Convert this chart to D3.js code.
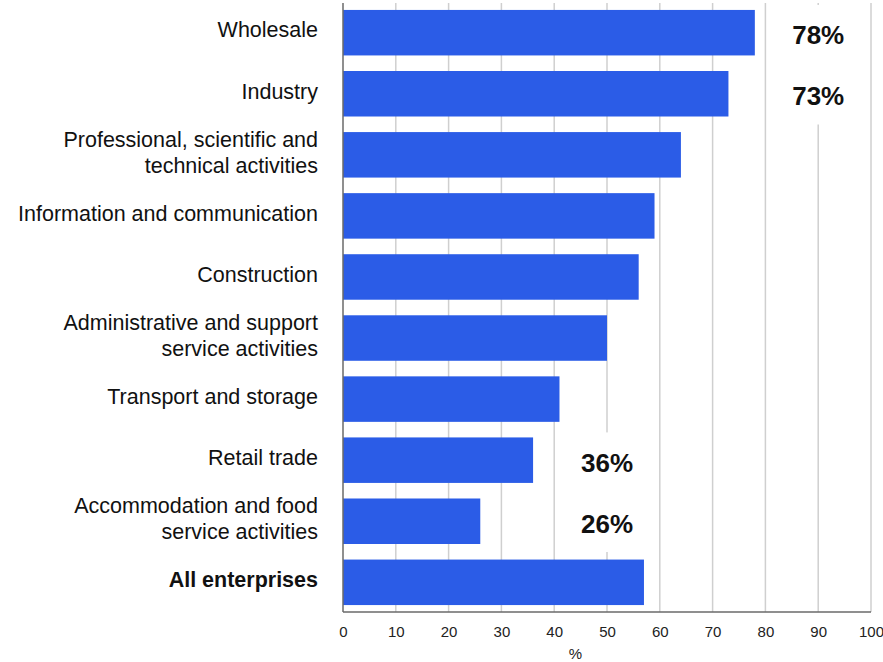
<!DOCTYPE html>
<html>
<head>
<meta charset="utf-8">
<script src="https://cdn.jsdelivr.net/npm/d3@7"></script>
<style>
  html, body { margin: 0; padding: 0; background: #fff; }
  svg { display: block; font-family: "Liberation Sans", Arial, sans-serif; }
</style>
</head>
<body>
<svg id="chart" width="883" height="662"></svg>
<script>
// Share of enterprises by sector (%)
const categories = [
  "Wholesale",
  "Industry",
  "Professional, scientific and|technical activities",
  "Information and communication",
  "Construction",
  "Administrative and support|service activities",
  "Transport and storage",
  "Retail trade",
  "Accommodation and food|service activities",
  "All enterprises"
];
const values = [78, 73, 64, 59, 56, 50, 41, 36, 26, 57];
const boldCategories = ["All enterprises"];
const xTicks = [0, 10, 20, 30, 40, 50, 60, 70, 80, 90, 100];
const axisTitle = "%";
// Callout groups: highlighted sectors and the value they show
const calloutHigh = ["Wholesale", "Industry"];
const calloutLow = ["Retail trade", "Accommodation and food|service activities"];

const svg = d3.select("#chart");
const plotLeft = 343, plotRight = 871, plotTop = 3, plotBottom = 612;

const x = d3.scaleLinear().domain([0, 100]).range([plotLeft, plotRight]);
const y = d3.scaleBand().domain(categories).range([2, 613])
  .paddingInner(0.255).paddingOuter(0.13);

// vertical gridlines
svg.append("g").selectAll("line").data(xTicks.slice(1)).join("line")
  .attr("x1", d => x(d)).attr("x2", d => x(d))
  .attr("y1", plotTop).attr("y2", plotBottom)
  .attr("stroke", "#cfcfcf").attr("stroke-width", 1.5);

// bars
svg.append("g").selectAll("rect").data(categories).join("rect")
  .attr("x", x(0))
  .attr("y", d => y(d))
  .attr("width", (d, i) => x(values[i]) - x(0))
  .attr("height", y.bandwidth())
  .attr("fill", "#2b5ce7");

// axes lines
svg.append("line").attr("x1", plotLeft).attr("x2", plotLeft).attr("y1", plotTop).attr("y2", plotBottom)
  .attr("stroke", "#6a6a6a").attr("stroke-width", 1.5);
svg.append("line").attr("x1", plotLeft).attr("x2", plotRight).attr("y1", plotBottom).attr("y2", plotBottom)
  .attr("stroke", "#6a6a6a").attr("stroke-width", 1.5);

// x tick labels
const xAxis = d3.axisBottom(x).tickValues(xTicks).tickSize(0).tickPadding(0);
const gx = svg.append("g").attr("transform", `translate(0,${plotBottom})`).call(xAxis);
gx.select(".domain").remove();
gx.selectAll("text")
  .attr("y", 0).attr("dy", 0)
  .attr("transform", "translate(0,25)")
  .style("font-family", '"Liberation Sans", Arial, sans-serif')
  .style("font-size", "15px")
  .attr("fill", "#222");

svg.append("text").attr("x", x(44)).attr("y", 659)
  .attr("text-anchor", "middle").attr("font-size", "15px").attr("fill", "#222")
  .text(axisTitle);

// category labels
const labels = svg.append("g").selectAll("text").data(categories).join("text")
  .attr("text-anchor", "end")
  .attr("font-size", "21.5px")
  .attr("fill", "#111")
  .attr("font-weight", d => boldCategories.includes(d) ? "bold" : "normal")
  .attr("transform", d => `translate(318,${y(d) + y.bandwidth() / 2 - 3})`);
labels.each(function(d) {
  const lines = d.split("|");
  const lh = 26;
  const t = d3.select(this);
  lines.forEach((ln, k) => {
    t.append("tspan").attr("x", 0)
      .attr("y", (k - (lines.length - 1) / 2) * lh)
      .attr("dy", "0.36em")
      .text(ln);
  });
});

// callout value labels on white panels
function callout(group, gridValue) {
  const first = group[0], last = group[group.length - 1];
  const cx = x(gridValue);
  svg.append("rect")
    .attr("x", cx - 40).attr("width", 80)
    .attr("y", y(first) - 5)
    .attr("height", y(last) + y.bandwidth() + 8 - (y(first) - 5))
    .attr("fill", "#fff");
  svg.append("g").selectAll("text").data(group).join("text")
    .attr("x", cx)
    .attr("y", d => y(d) + y.bandwidth() / 2 + 2)
    .attr("dy", "0.36em")
    .attr("text-anchor", "middle")
    .attr("font-size", "26px").attr("font-weight", "bold").attr("fill", "#111")
    .text(d => values[categories.indexOf(d)] + "%");
}
callout(calloutHigh, 90);
callout(calloutLow, 50);
</script>
</body>
</html>
